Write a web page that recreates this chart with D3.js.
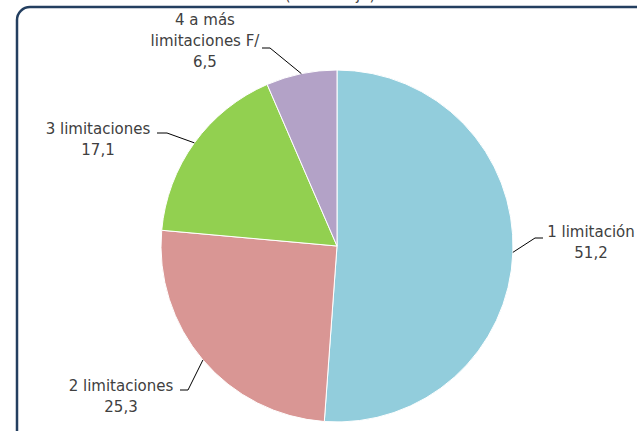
<!DOCTYPE html>
<html>
<head>
<meta charset="utf-8">
<script src="https://cdn.jsdelivr.net/npm/d3@7"></script>
<style>
  html, body { margin: 0; padding: 0; background: #fff; }
  svg { display: block; }
</style>
</head>
<body>
<svg id="chart" width="637" height="431"></svg>
<script>
// ---- data ----
const categories = ["1 limitación", "2 limitaciones", "3 limitaciones", "4 a más limitaciones F/"];
const labelLines = [["1 limitación"], ["2 limitaciones"], ["3 limitaciones"], ["4 a más", "limitaciones F/"]];
const values = [51.2, 25.3, 17.1, 6.5];
const valueLabels = ["51,2", "25,3", "17,1", "6,5"];
const title = "(Porcentaje)";

// ---- layout / style ----
const colors = ["#92CDDC", "#D99694", "#92D050", "#B3A2C7"];
const cx = 337, cy = 246, R = 176;
const labelLayout = [
  { x: 591, y: 232, lineX: 543, elbowX: 535, leaderY: 238 },
  { x: 121, y: 386, lineX: 180, elbowX: 188, leaderY: 390 },
  { x: 98,  y: 129, lineX: 157, elbowX: 167, leaderY: 133 },
  { x: 205, y: 20,  lineX: 262, elbowX: 270, leaderY: 48 }
];
const lineH = 21;
const fontFam = "'DejaVu Sans', Verdana, sans-serif";
const fontSize = 15;
const textColor = "#404040";

const svg = d3.select("#chart");

// frame
svg.append("rect")
  .attr("x", 17).attr("y", 7)
  .attr("width", 640).attr("height", 445)
  .attr("rx", 13).attr("ry", 13)
  .attr("fill", "#fff")
  .attr("stroke", "#243F60")
  .attr("stroke-width", 2.5);

// clipped title (only lower part visible, as in the reference)
svg.append("text")
  .attr("x", 330).attr("y", 0)
  .attr("text-anchor", "middle")
  .attr("font-family", fontFam)
  .attr("font-size", fontSize)
  .attr("fill", textColor)
  .text(title);

const pie = d3.pie().sort(null).value(d => d)(values);
const arc = d3.arc().innerRadius(0).outerRadius(R);

const g = svg.append("g").attr("transform", `translate(${cx},${cy})`);
g.selectAll("path.slice")
  .data(pie)
  .join("path")
  .attr("class", "slice")
  .attr("d", arc)
  .attr("fill", (d, i) => colors[i])
  .attr("stroke", "#fff")
  .attr("stroke-width", 1);

// leader lines
pie.forEach((d, i) => {
  const a = (d.startAngle + d.endAngle) / 2;
  const px = cx + R * Math.sin(a);
  const py = cy - R * Math.cos(a);
  const L = labelLayout[i];
  svg.append("polyline")
    .attr("points", `${L.lineX},${L.leaderY} ${L.elbowX},${L.leaderY} ${px},${py}`)
    .attr("fill", "none")
    .attr("stroke", "#000")
    .attr("stroke-width", 1);
});

// labels
labelLines.forEach((lines, i) => {
  const L = labelLayout[i];
  const t = svg.append("text")
    .attr("font-family", fontFam)
    .attr("font-size", fontSize)
    .attr("fill", textColor)
    .attr("text-anchor", "middle");
  lines.concat([valueLabels[i]]).forEach((s, k) => {
    t.append("tspan")
      .attr("x", L.x)
      .attr("y", L.y + k * lineH)
      .attr("dominant-baseline", "middle")
      .text(s);
  });
});
</script>
</body>
</html>
